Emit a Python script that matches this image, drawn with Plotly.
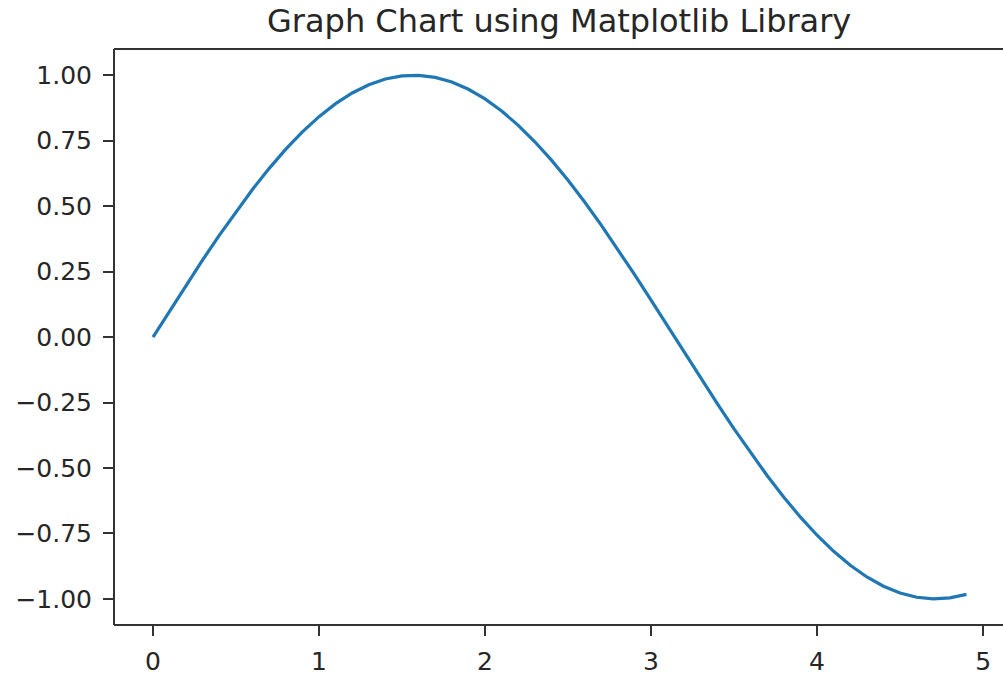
import plotly.graph_objects as go

x_values = [0.0, 0.1, 0.2, 0.3, 0.4, 0.5, 0.6, 0.7, 0.8, 0.9,
            1.0, 1.1, 1.2, 1.3, 1.4, 1.5, 1.6, 1.7, 1.8, 1.9,
            2.0, 2.1, 2.2, 2.3, 2.4, 2.5, 2.6, 2.7, 2.8, 2.9,
            3.0, 3.1, 3.2, 3.3, 3.4, 3.5, 3.6, 3.7, 3.8, 3.9,
            4.0, 4.1, 4.2, 4.3, 4.4, 4.5, 4.6, 4.7, 4.8, 4.9]
y_values = [0.0, 0.0998, 0.1987, 0.2955, 0.3894, 0.4794, 0.5646, 0.6442, 0.7174, 0.7833,
            0.8415, 0.8912, 0.9320, 0.9636, 0.9854, 0.9975, 0.9996, 0.9917, 0.9738, 0.9463,
            0.9093, 0.8632, 0.8085, 0.7457, 0.6755, 0.5985, 0.5155, 0.4274, 0.3350, 0.2392,
            0.1411, 0.0416, -0.0584, -0.1577, -0.2555, -0.3508, -0.4425, -0.5298, -0.6119, -0.6878,
            -0.7568, -0.8183, -0.8716, -0.9162, -0.9516, -0.9775, -0.9937, -0.9999, -0.9962, -0.9825]
x_ticks = [0, 1, 2, 3, 4, 5]
y_ticks = [1.0, 0.75, 0.5, 0.25, 0.0, -0.25, -0.5, -0.75, -1.0]
y_tick_labels = ["1.00", "0.75", "0.50", "0.25", "0.00", "\u22120.25", "\u22120.50", "\u22120.75", "\u22121.00"]
title_text = "Graph Chart using Matplotlib Library"

fig = go.Figure()
fig.add_trace(go.Scatter(x=x_values, y=y_values, mode="lines",
                         line=dict(color="#1f77b4", width=3.2), showlegend=False))

axis_font = dict(family="DejaVu Sans", size=25, color="#262626")
spine = dict(color="#333333", width=2)
fig.update_layout(
    width=1003, height=676,
    margin=dict(l=114, r=0, t=49, b=44),
    paper_bgcolor="white", plot_bgcolor="white",
    xaxis=dict(range=[-0.235, 5.12], tickvals=x_ticks, ticktext=[str(v) for v in x_ticks],
               showgrid=False, zeroline=False, showline=False,
               ticks="outside", ticklen=10,
               tickwidth=1.5, tickcolor="#333333", tickfont=axis_font, ticklabelstandoff=4),
    yaxis=dict(range=[-1.0996, 1.1], tickvals=y_ticks, ticktext=y_tick_labels,
               showgrid=False, zeroline=False, showline=False,
               ticks="outside", ticklen=10,
               tickwidth=1.5, tickcolor="#333333", tickfont=axis_font, ticklabelstandoff=6),
    shapes=[
        dict(type="line", xref="paper", yref="paper", x0=0, x1=1.01, y0=0, y1=0, line=spine),
        dict(type="line", xref="paper", yref="paper", x0=0, x1=1.01, y0=1, y1=1, line=spine),
        dict(type="line", xref="paper", yref="paper", x0=0, x1=0, y0=0, y1=1, line=spine),
    ],
    annotations=[dict(text=title_text, xref="paper", yref="paper", x=0.5, y=1,
                      xanchor="center", yanchor="bottom", yshift=7, showarrow=False,
                      font=dict(family="DejaVu Sans", size=32, color="#262626"))],
)

fig.write_html("out.html")
